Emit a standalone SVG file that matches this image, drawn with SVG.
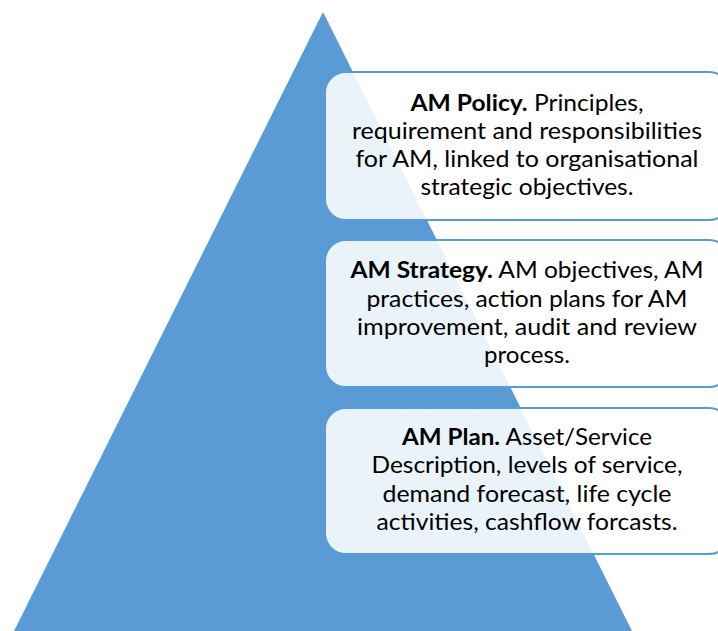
<svg xmlns="http://www.w3.org/2000/svg" width="718" height="631" viewBox="0 0 718 631">
<style>
.box{fill:#ffffff;fill-opacity:0.88;stroke:#5b9bd5;stroke-width:2}
.t{font-family:Lato,"Open Sans","Liberation Sans",sans-serif;font-size:23px;fill:#000;text-anchor:middle}
.b{font-weight:bold}
</style>
<rect width="718" height="631" fill="#ffffff"/>
<g id="pyramid">
<polygon points="323,12 14,631 632,631" fill="#5b9bd5"/>
</g>
<g id="connectors"></g>
<g id="policy">
<rect class="box" x="325" y="72" width="405" height="148" rx="21"/>
<text class="t" x="527" y="111" textLength="233" lengthAdjust="spacingAndGlyphs"><tspan class="b">AM Policy.</tspan> Principles,</text>
<text class="t" x="527" y="139" textLength="350" lengthAdjust="spacingAndGlyphs">requirement and responsibilities</text>
<text class="t" x="527" y="167" textLength="343" lengthAdjust="spacingAndGlyphs">for AM, linked to organisational</text>
<text class="t" x="527" y="195" textLength="213" lengthAdjust="spacingAndGlyphs">strategic objectives.</text>
</g>
<g id="strategy">
<rect class="box" x="325" y="240" width="405" height="147" rx="21"/>
<text class="t" x="527" y="278" textLength="353" lengthAdjust="spacingAndGlyphs"><tspan class="b">AM Strategy.</tspan> AM objectives, AM</text>
<text class="t" x="527" y="307" textLength="321" lengthAdjust="spacingAndGlyphs">practices, action plans for AM</text>
<text class="t" x="527" y="335" textLength="340" lengthAdjust="spacingAndGlyphs">improvement, audit and review</text>
<text class="t" x="527" y="363" textLength="86" lengthAdjust="spacingAndGlyphs">process.</text>
</g>
<g id="plan">
<rect class="box" x="325" y="408" width="405" height="146" rx="21"/>
<text class="t" x="527" y="445" textLength="250" lengthAdjust="spacingAndGlyphs"><tspan class="b">AM Plan.</tspan> Asset/Service</text>
<text class="t" x="527" y="473" textLength="311" lengthAdjust="spacingAndGlyphs">Description, levels of service,</text>
<text class="t" x="527" y="502" textLength="289" lengthAdjust="spacingAndGlyphs">demand forecast, life cycle</text>
<text class="t" x="527" y="530" textLength="301" lengthAdjust="spacingAndGlyphs">activities, cashflow forcasts.</text>
</g>
</svg>
